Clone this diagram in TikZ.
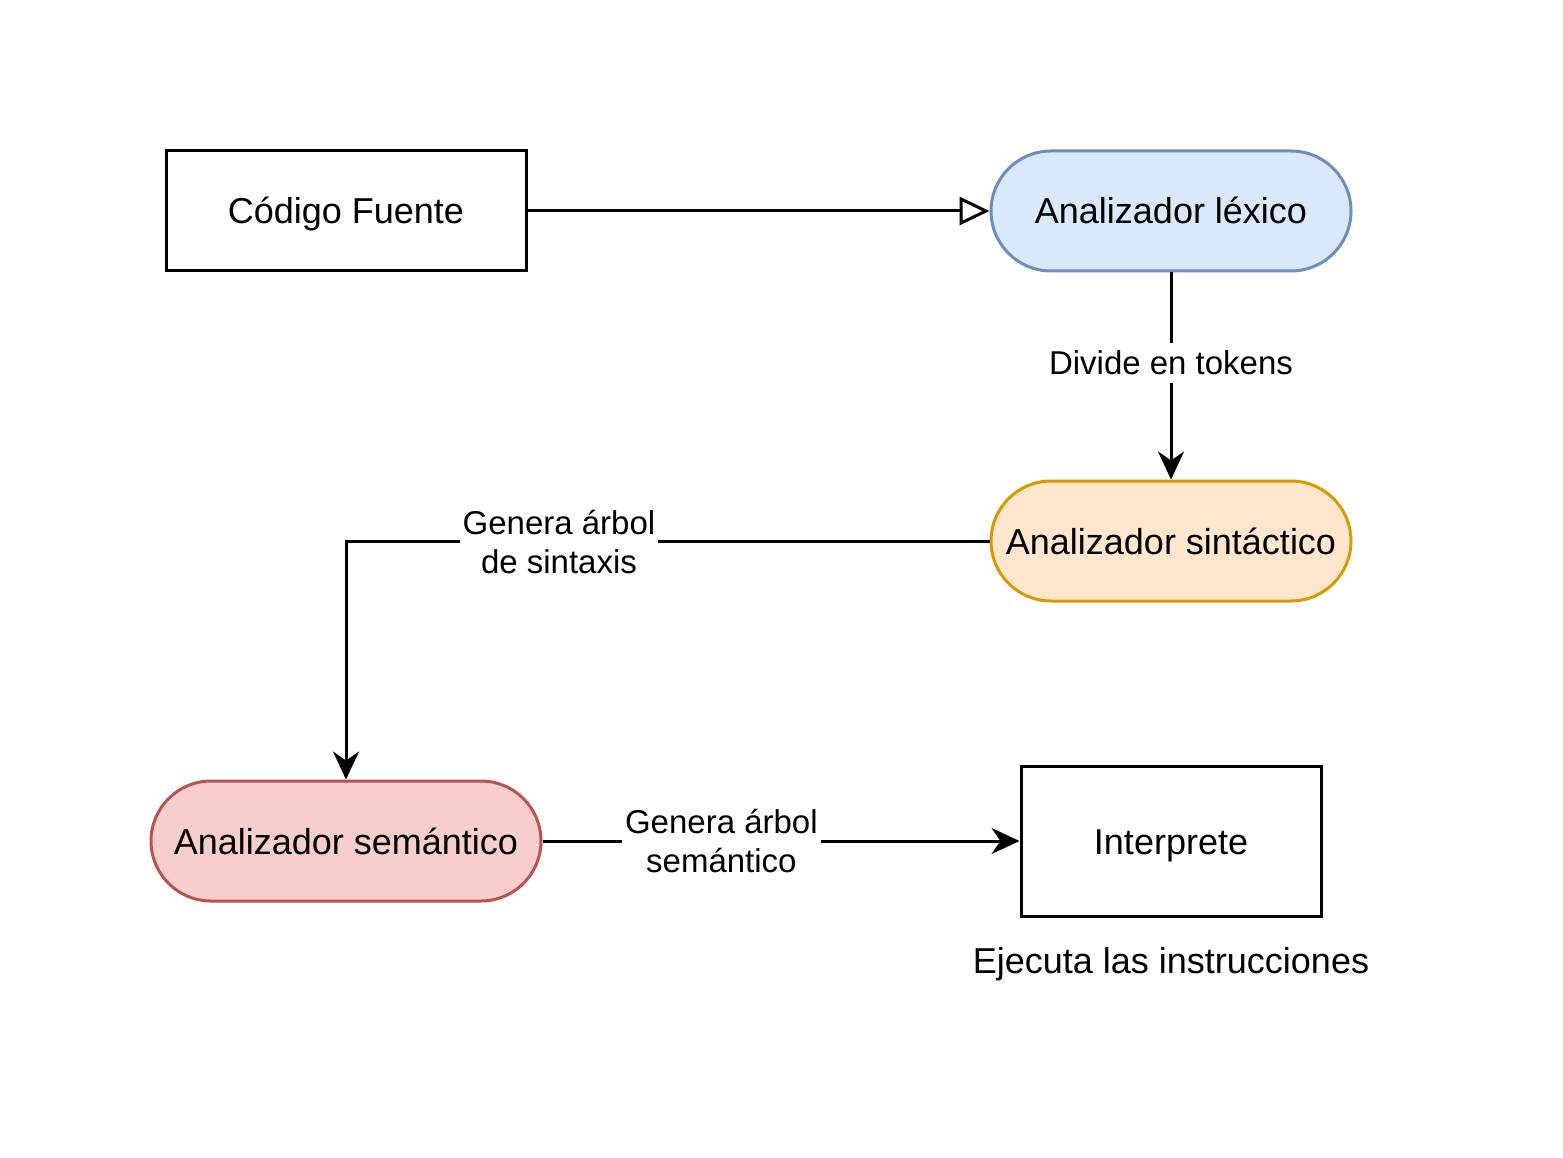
\documentclass[tikz,border=0pt]{standalone}
\usepackage{fontspec}
\setmainfont{Liberation Sans}
\usetikzlibrary{arrows.meta}
\definecolor{bluefill}{HTML}{DAE8FC}
\definecolor{bluedraw}{HTML}{6C8EBF}
\definecolor{orangefill}{HTML}{FFE6CC}
\definecolor{orangedraw}{HTML}{D79B00}
\definecolor{redfill}{HTML}{F8CECC}
\definecolor{reddraw}{HTML}{B85450}
\tikzset{
  boxbase/.style={line width=3pt, minimum height=120pt, inner sep=0pt, text height=31pt, text depth=5pt, font=\fontsize{36}{43}\selectfont},
  plainbox/.style={boxbase, rectangle, draw=black, fill=white},
  pill/.style={boxbase, rectangle, rounded corners=60pt},
  edge/.style={line width=3pt, draw=black},
  filledtip/.style={-{Stealth[length=28pt, width=26pt, inset=9pt]}},
  opentip/.style={-{Triangle[open, length=30pt, width=28pt]}},
  elabel/.style={fill=white, inner sep=3pt, align=center, font=\fontsize{33}{39}\selectfont},
  slabel/.style={fill=white, inner sep=4pt, text height=27pt, text depth=5pt, font=\fontsize{33}{39}\selectfont},
  freetext/.style={inner sep=0pt, text height=28pt, text depth=8pt, font=\fontsize{36}{43}\selectfont}
}
\begin{document}
\begin{tikzpicture}[x=1pt, y=-1pt]
\useasboundingbox (0,0) rectangle (1563,1158);
\node[plainbox, minimum width=360pt] (src) at (346,211) {Código Fuente};
\node[pill, minimum width=360pt, fill=bluefill, draw=bluedraw] (lex) at (1171,211) {Analizador léxico};
\node[pill, minimum width=360pt, fill=orangefill, draw=orangedraw] (syn) at (1171,541) {Analizador sintáctico};
\node[pill, minimum width=390pt, fill=redfill, draw=reddraw] (sem) at (346,841) {Analizador semántico};
\node[plainbox, minimum width=300pt, minimum height=150pt] (int) at (1171,841) {Interprete};
\node[freetext] (exec) at (1171,963) {Ejecuta las instrucciones};

\draw[edge, opentip] (src.east) -- (lex.west);
\draw[edge, filledtip] (lex.south) -- node[slabel, pos=0.438] {Divide en tokens} (syn.north);
\coordinate (corner) at (346,541);
\draw[edge, filledtip] (syn.west) -- (corner) -- (sem.north);
\node[elabel] (l2) at (559,542) {Genera árbol\\de sintaxis};
\draw[edge, filledtip] (sem.east) -- node[elabel, pos=0.375] {Genera árbol\\semántico} (int.west);
\end{tikzpicture}
\end{document}
